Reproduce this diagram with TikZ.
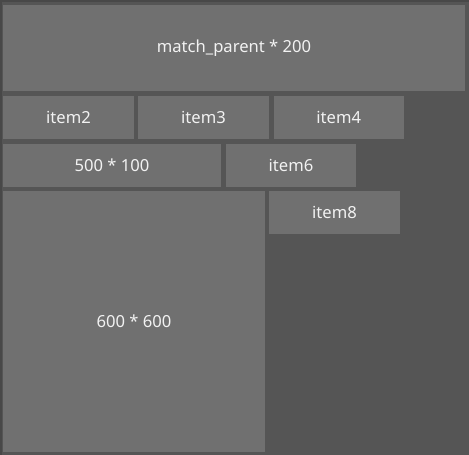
\documentclass[tikz,border=0pt]{standalone}
\usepackage{fontspec}
\setmainfont{Noto Sans}
\usetikzlibrary{positioning}
\definecolor{flBg}{HTML}{555555}
\definecolor{flEdge}{HTML}{484848}
\definecolor{flItem}{HTML}{707070}
\definecolor{flText}{HTML}{F2F2F2}
\tikzset{
  % grey child item
  ibox/.style={rectangle,fill=flItem,inner sep=0pt,outer sep=0pt,
    minimum width=131pt,minimum height=43pt,
    font=\fontsize{16.6}{19}\selectfont,text=flText},
}
\begin{document}
\begin{tikzpicture}[x=1pt,y=1pt]
  % container
  \fill[flEdge] (0,0) rectangle (469,-455);
  \fill[flBg] (1.5,-1.5) rectangle (469,-455);
  \useasboundingbox (0,0) rectangle (469,-455);

  \node[ibox,minimum width=462pt,minimum height=86pt,anchor=north west]
    (top) at (3,-5) {match\_parent * 200};

  \node[ibox,below right=5pt and 0pt of top.south west,anchor=north west]
    (item2) {item2};
  \node[ibox,right=4pt of item2] (item3) {item3};
  \node[ibox,right=4.5pt of item3,minimum width=130.5pt] (item4) {item4};

  \node[ibox,minimum width=218pt,below right=5pt and 0pt of item2.south west,
    anchor=north west] (wide) {500 * 100};
  \node[ibox,right=5pt of wide,minimum width=130pt] (item6) {item6};

  \node[ibox,minimum width=262pt,minimum height=261pt,
    below right=4pt and 0pt of wide.south west,anchor=north west]
    (square) {600 * 600};
  \node[ibox,right=4pt of square.north east,anchor=north west] (item8) {item8};
\end{tikzpicture}
\end{document}
